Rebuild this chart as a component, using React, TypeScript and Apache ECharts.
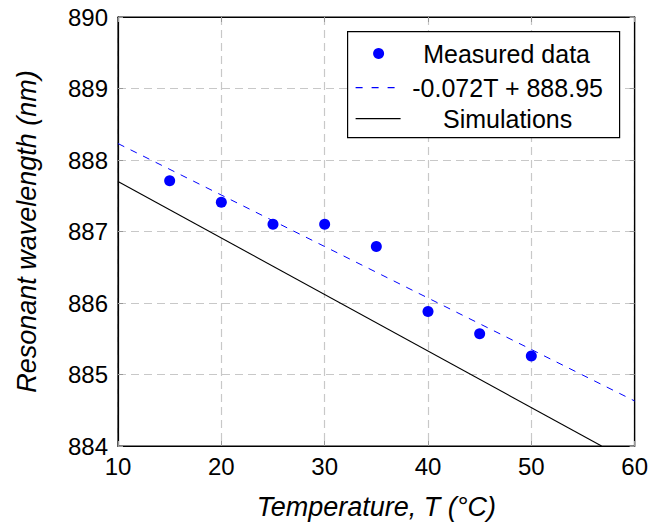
import React, { useEffect, useRef } from "react";
import * as echarts from "echarts";

const temperatures = [15, 20, 25, 30, 35, 40, 45, 50];
const measured = [887.71, 887.41, 887.1, 887.1, 886.79, 885.88, 885.57, 885.26];
const fitLine: [number, number][] = [
  [10, 888.23],
  [60, 884.63],
];
const simulation: [number, number][] = [
  [10, 887.7],
  [56.8, 884.0],
];
const legendNames = ["Measured data", "-0.072T + 888.95", "Simulations"];

const FONT = "'Liberation Sans', Arial, sans-serif";

export default function App() {
  const ref = useRef<HTMLDivElement>(null);
  useEffect(() => {
    if (!ref.current) return;
    const chart = echarts.init(ref.current, undefined, { renderer: "svg" });
    const split = {
      show: true,
      lineStyle: { color: "#c8c8c8", type: [8, 5] as any, width: 1.2 },
    };
    const tick = { show: true, inside: true, length: 5, lineStyle: { color: "#999", width: 1 } };
    const labelStyle = { color: "#000", fontFamily: FONT, fontSize: 24 };
    const legendText = (text: string, x: number, y: number) => ({
      type: "text",
      x,
      y,
      z: 102,
      style: {
        text,
        fontFamily: FONT,
        fontSize: 25,
        fill: "#000",
        align: "center",
        verticalAlign: "middle",
      },
    });
    chart.setOption({
      animation: false,
      backgroundColor: "#fff",
      grid: {
        left: 118,
        top: 17,
        right: 15,
        bottom: 77,
        show: true,
        borderColor: "#000",
        borderWidth: 1.2,
      },
      xAxis: [
        {
          type: "value",
          min: 10,
          max: 60,
          interval: 10,
          position: "bottom",
          axisLine: { show: true, lineStyle: { color: "#000", width: 1.2 } },
          axisTick: tick,
          splitLine: split,
          axisLabel: { ...labelStyle, margin: 8 },
          name: "Temperature, T (°C)",
          nameLocation: "middle",
          nameGap: 47,
          nameTextStyle: { ...labelStyle, fontStyle: "italic", fontSize: 27 },
        },
        {
          type: "value",
          min: 10,
          max: 60,
          interval: 10,
          position: "top",
          axisLine: { show: true, lineStyle: { color: "#000", width: 1.2 } },
          axisTick: tick,
          splitLine: { show: false },
          axisLabel: { show: false },
        },
      ],
      yAxis: [
        {
          type: "value",
          min: 884,
          max: 890,
          interval: 1,
          position: "left",
          axisLine: { show: true, lineStyle: { color: "#000", width: 1.2 } },
          axisTick: tick,
          splitLine: split,
          axisLabel: { ...labelStyle, margin: 10 },
          name: "Resonant wavelength (nm)",
          nameLocation: "middle",
          nameGap: 78,
          nameTextStyle: { ...labelStyle, fontStyle: "italic", fontSize: 27 },
        },
        {
          type: "value",
          min: 884,
          max: 890,
          interval: 1,
          position: "right",
          axisLine: { show: true, lineStyle: { color: "#000", width: 1.2 } },
          axisTick: tick,
          splitLine: { show: false },
          axisLabel: { show: false },
        },
      ],
      series: [
        {
          name: legendNames[1],
          type: "line",
          data: fitLine,
          showSymbol: false,
          symbol: "none",
          lineStyle: { color: "#0000ff", width: 1, type: [7, 7] as any },
          z: 3,
        },
        {
          name: legendNames[2],
          type: "line",
          data: simulation,
          showSymbol: false,
          symbol: "none",
          lineStyle: { color: "#000", width: 1.1 },
          z: 3,
        },
        {
          name: legendNames[0],
          type: "scatter",
          data: temperatures.map((t, i) => [t, measured[i]]),
          symbol: "circle",
          symbolSize: 11,
          itemStyle: { color: "#0000ff", opacity: 1 },
          z: 5,
        },
      ],
      graphic: [
        {
          type: "group",
          left: 347,
          top: 31,
          z: 100,
          children: [
            {
              type: "rect",
              z: 100,
              shape: { x: 0, y: 0, width: 272, height: 106 },
              style: { fill: "#fff", stroke: "#000", lineWidth: 1.2 },
            },
            {
              type: "circle",
              z: 101,
              shape: { cx: 31, cy: 22, r: 5.5 },
              style: { fill: "#0000ff" },
            },
            {
              type: "line",
              z: 101,
              shape: { x1: 8, y1: 56, x2: 48, y2: 56 },
              style: { stroke: "#0000ff", lineWidth: 1.2, lineDash: [7, 9] },
            },
            {
              type: "line",
              z: 101,
              shape: { x1: 8, y1: 87, x2: 53, y2: 87 },
              style: { stroke: "#000", lineWidth: 1.1 },
            },
            legendText(legendNames[0], 159, 22),
            legendText(legendNames[1], 160, 56),
            legendText(legendNames[2], 160, 87),
          ],
        },
      ],
    });
    return () => chart.dispose();
  }, []);
  return <div ref={ref} style={{ width: 651, height: 525, position: "absolute", left: 0, top: 0 }} />;
}
